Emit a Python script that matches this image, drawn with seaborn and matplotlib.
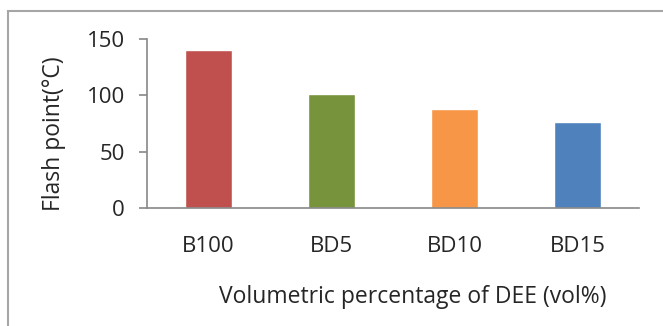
import matplotlib
matplotlib.use("Agg")
import matplotlib.pyplot as plt
import seaborn as sns
import pandas as pd
from matplotlib.patches import Rectangle

categories = ["B100", "BD5", "BD10", "BD15"]
values = [140, 101, 88, 76]
colors = ["#C0504D", "#77933C", "#F79646", "#4F81BD"]
yticks = [0, 50, 100, 150]

sns.set_style("white")
plt.rcParams['font.family'] = ['Open Sans', 'DejaVu Sans']

df = pd.DataFrame({"cat": categories, "val": values})

fig = plt.figure(figsize=(6.63, 3.26), dpi=100)
ax = fig.add_axes([147/663, 1-208/326, (639-147)/663, (208-39)/326])

sns.barplot(data=df, x="cat", y="val", hue="cat", palette=colors, width=0.39,
            legend=False, ax=ax, saturation=1)

fs = 16
ax.set_xlim(-0.5, 3.5)
ax.set_ylim(0, 150)
ax.set_yticks(yticks)
ax.set_yticklabels([str(v) for v in yticks], fontsize=fs)
ax.set_xticks(range(len(categories)))
ax.set_xticklabels(categories, fontsize=fs)
ax.set_xticks([-0.5, 0.5, 1.5, 2.5, 3.5], minor=True)
ax.tick_params(axis='x', which='major', length=0, pad=20)
ax.tick_params(axis='x', which='minor', length=6, width=1.2, color='#888888', direction='out')
ax.tick_params(axis='y', length=6, width=1.2, color='#888888', direction='out', pad=10, left=True)
for s in ["top", "right"]:
    ax.spines[s].set_visible(False)
for s in ["left", "bottom"]:
    ax.spines[s].set_color('#888888')
    ax.spines[s].set_linewidth(1.2)

ax.set_xlabel("Volumetric percentage of DEE (vol%)", fontsize=fs + 0.5, labelpad=20)
ax.set_ylabel("Flash point(°C)", fontsize=fs + 0.5, labelpad=15)
ax.xaxis.label.set_x(0.54)
ax.yaxis.label.set_y(0.44)

fig.patches.append(Rectangle((8/663, -0.1), 1.2, 1.1 - 11/326, transform=fig.transFigure,
                             fill=False, edgecolor='#A6A6A6', linewidth=1.5))

fig.savefig("out.png", dpi=100)
